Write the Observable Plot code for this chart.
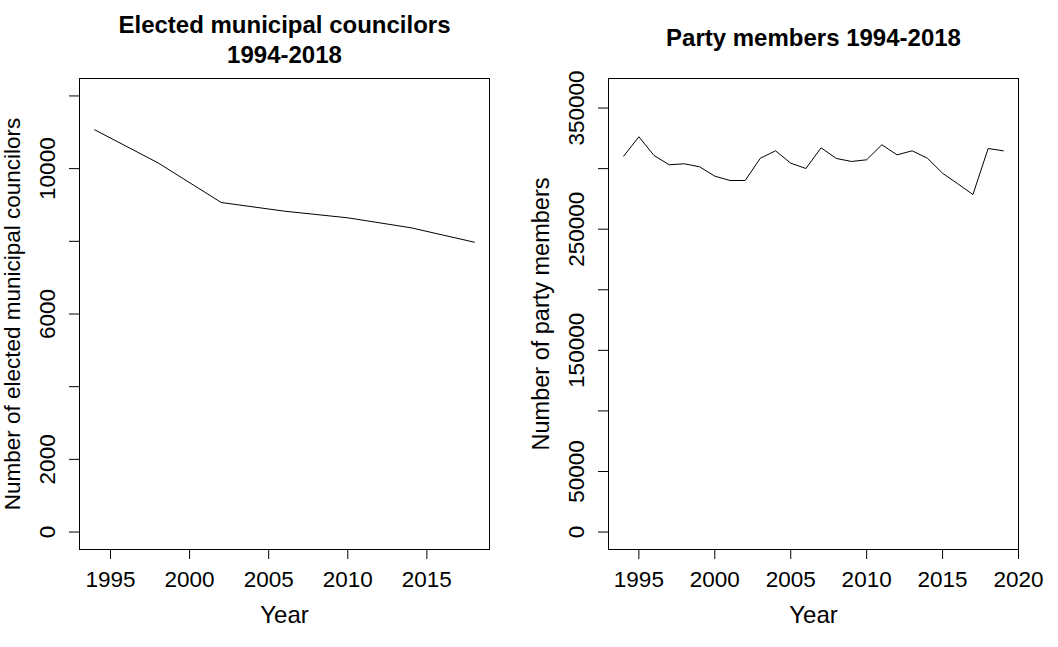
<!DOCTYPE html>
<html><head><meta charset="utf-8">
<script src="https://cdn.jsdelivr.net/npm/d3@7"></script>
<script src="https://cdn.jsdelivr.net/npm/@observablehq/plot@0.6"></script>
<style>
body{margin:0;background:#fff;}
#wrap{display:flex;width:1058px;height:647px;}
#wrap svg{overflow:visible;}
</style></head><body><div id="wrap"></div>
<script>
const councilYears = [1994, 1998, 2002, 2006, 2010, 2014, 2018];
const councilValues = [11068, 10160, 9068, 8829, 8647, 8372, 7976];
const memberYears = [1994, 1995, 1996, 1997, 1998, 1999, 2000, 2001, 2002, 2003, 2004, 2005, 2006,
  2007, 2008, 2009, 2010, 2011, 2012, 2013, 2014, 2015, 2016, 2017, 2018, 2019];
const memberValues = [310300, 326300, 310800, 303200, 304000, 301500, 293800, 290200, 290200, 308600,
  314700, 304500, 300100, 317200, 308400, 305900, 307300, 319700, 311400, 314700, 308600, 296200,
  287500, 278600, 316600, 314700];
const councilXTicks = [1995, 2000, 2005, 2010, 2015];
const memberXTicks = [1995, 2000, 2005, 2010, 2015, 2020];
const councilYTicks = [0, 2000, 4000, 6000, 8000, 10000, 12000];
const councilYLabels = [0, 2000, 6000, 10000];
const memberYTicks = [0, 50000, 100000, 150000, 200000, 250000, 300000, 350000];
const memberYLabels = [0, 50000, 150000, 250000, 350000];
const panelTitles = ["Elected municipal councilors\n1994-2018", "Party members 1994-2018"];
const yTitles = ["Number of elected municipal councilors", "Number of party members"];
const xTitle = "Year";

function panel({years, values, xDomain, yDomain, xTicks, yTicks, yLabels, title, titleDy, yTitle, yTitleSize}) {
  const data = years.map((yr, i) => ({year: yr, value: values[i]}));
  return Plot.plot({
    width: 529, height: 647,
    marginLeft: 79, marginRight: 40, marginTop: 78, marginBottom: 98,
    style: {fontFamily: "'Liberation Sans', Arial, sans-serif", background: "white", color: "black", overflow: "visible"},
    x: {domain: xDomain},
    y: {domain: yDomain},
    marks: [
      Plot.frame({stroke: "black", strokeWidth: 1}),
      Plot.axisX({ticks: xTicks, tickSize: 10, tickPadding: 12, fontSize: 22.5, label: null, tickFormat: d => String(d)}),
      Plot.axisY({ticks: yTicks, tickSize: 10, tickFormat: () => "", label: null}),
      Plot.text(yLabels, {y: d => d, text: d => String(d), frameAnchor: "left", dx: -25, rotate: -90,
        textAnchor: "middle", lineAnchor: "bottom", fontSize: 22.5}),
      Plot.line(data, {x: "year", y: "value", stroke: "black", strokeWidth: 1}),
      Plot.text([title], {text: d => d, frameAnchor: "top", dy: titleDy, lineAnchor: "bottom",
        fontWeight: "bold", fontSize: 24, lineHeight: 1.23}),
      Plot.text([xTitle], {text: d => d, frameAnchor: "bottom", dy: 73, lineAnchor: "bottom", fontSize: 24}),
      Plot.text([yTitle], {text: d => d, frameAnchor: "left", dx: -60, dy: 0, rotate: -90,
        textAnchor: "middle", lineAnchor: "bottom", fontSize: yTitleSize})
    ]
  });
}

const wrap = document.getElementById("wrap");
wrap.append(panel({
  years: councilYears, values: councilValues,
  xDomain: [1993.04, 2018.96], yDomain: [-480, 12480],
  xTicks: councilXTicks, yTicks: councilYTicks, yLabels: councilYLabels,
  title: panelTitles[0], titleDy: -16, yTitle: yTitles[0], yTitleSize: 22.5
}));
wrap.append(panel({
  years: memberYears, values: memberValues,
  xDomain: [1993, 2020], yDomain: [-14400, 374400],
  xTicks: memberXTicks, yTicks: memberYTicks, yLabels: memberYLabels,
  title: panelTitles[1], titleDy: -32.3, yTitle: yTitles[1], yTitleSize: 23.5
}));
</script></body></html>
